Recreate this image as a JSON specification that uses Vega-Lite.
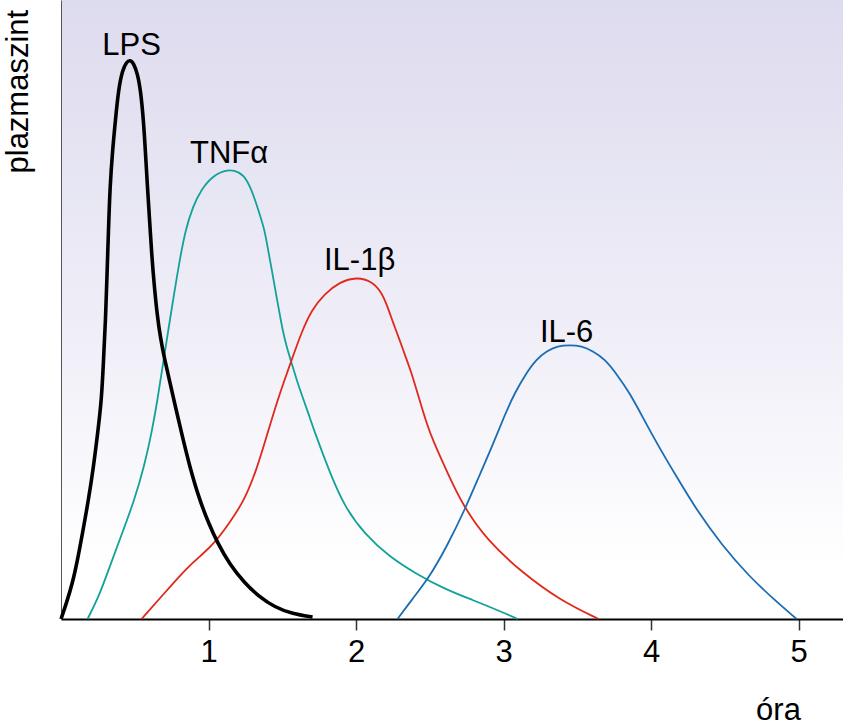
{
  "$schema": "https://vega.github.io/schema/vega-lite/v6.json",
  "width": 782,
  "height": 619,
  "autosize": "none",
  "padding": {"left": 61, "top": 0, "right": 0, "bottom": 108},
  "background": "white",
  "config": {
    "view": {"stroke": null, "fill": {"gradient": "linear", "x1": 0, "y1": 0, "x2": 0, "y2": 1, "stops": [{"offset": 0, "color": "#dddbee"}, {"offset": 0.5, "color": "#eeedf7"}, {"offset": 0.92, "color": "#ffffff"}, {"offset": 1, "color": "#ffffff"}]}},
    "font": "Liberation Sans"
  },
  "datasets": {
    "curves": [
      {"s": "LPS", "t": 0.0, "v": 0},
      {"s": "LPS", "t": 0.037, "v": 16},
      {"s": "LPS", "t": 0.078, "v": 36},
      {"s": "LPS", "t": 0.112, "v": 59},
      {"s": "LPS", "t": 0.146, "v": 86},
      {"s": "LPS", "t": 0.186, "v": 119},
      {"s": "LPS", "t": 0.22, "v": 152},
      {"s": "LPS", "t": 0.247, "v": 184},
      {"s": "LPS", "t": 0.275, "v": 219},
      {"s": "LPS", "t": 0.288, "v": 259},
      {"s": "LPS", "t": 0.302, "v": 299},
      {"s": "LPS", "t": 0.312, "v": 345},
      {"s": "LPS", "t": 0.322, "v": 390},
      {"s": "LPS", "t": 0.332, "v": 432},
      {"s": "LPS", "t": 0.349, "v": 468},
      {"s": "LPS", "t": 0.369, "v": 499},
      {"s": "LPS", "t": 0.39, "v": 530},
      {"s": "LPS", "t": 0.417, "v": 549},
      {"s": "LPS", "t": 0.444, "v": 557},
      {"s": "LPS", "t": 0.468, "v": 559},
      {"s": "LPS", "t": 0.492, "v": 556},
      {"s": "LPS", "t": 0.519, "v": 545},
      {"s": "LPS", "t": 0.539, "v": 529},
      {"s": "LPS", "t": 0.559, "v": 499},
      {"s": "LPS", "t": 0.573, "v": 465},
      {"s": "LPS", "t": 0.586, "v": 432},
      {"s": "LPS", "t": 0.6, "v": 400},
      {"s": "LPS", "t": 0.614, "v": 366},
      {"s": "LPS", "t": 0.631, "v": 335},
      {"s": "LPS", "t": 0.651, "v": 305},
      {"s": "LPS", "t": 0.675, "v": 280},
      {"s": "LPS", "t": 0.702, "v": 260},
      {"s": "LPS", "t": 0.736, "v": 238},
      {"s": "LPS", "t": 0.776, "v": 212},
      {"s": "LPS", "t": 0.817, "v": 186},
      {"s": "LPS", "t": 0.871, "v": 153},
      {"s": "LPS", "t": 0.939, "v": 119},
      {"s": "LPS", "t": 1.0, "v": 96},
      {"s": "LPS", "t": 1.061, "v": 76},
      {"s": "LPS", "t": 1.142, "v": 55},
      {"s": "LPS", "t": 1.244, "v": 36},
      {"s": "LPS", "t": 1.346, "v": 22},
      {"s": "LPS", "t": 1.447, "v": 12},
      {"s": "LPS", "t": 1.569, "v": 5},
      {"s": "LPS", "t": 1.705, "v": 2},
      {"s": "TNF", "t": 0.18, "v": 0},
      {"s": "TNF", "t": 0.261, "v": 24},
      {"s": "TNF", "t": 0.329, "v": 52},
      {"s": "TNF", "t": 0.41, "v": 84},
      {"s": "TNF", "t": 0.498, "v": 119},
      {"s": "TNF", "t": 0.566, "v": 154},
      {"s": "TNF", "t": 0.614, "v": 186},
      {"s": "TNF", "t": 0.654, "v": 219},
      {"s": "TNF", "t": 0.688, "v": 252},
      {"s": "TNF", "t": 0.722, "v": 284},
      {"s": "TNF", "t": 0.763, "v": 322},
      {"s": "TNF", "t": 0.803, "v": 358},
      {"s": "TNF", "t": 0.844, "v": 389},
      {"s": "TNF", "t": 0.892, "v": 412},
      {"s": "TNF", "t": 0.953, "v": 430},
      {"s": "TNF", "t": 1.027, "v": 443},
      {"s": "TNF", "t": 1.129, "v": 450},
      {"s": "TNF", "t": 1.21, "v": 447},
      {"s": "TNF", "t": 1.258, "v": 440},
      {"s": "TNF", "t": 1.305, "v": 424},
      {"s": "TNF", "t": 1.346, "v": 405},
      {"s": "TNF", "t": 1.38, "v": 389},
      {"s": "TNF", "t": 1.4, "v": 372},
      {"s": "TNF", "t": 1.42, "v": 356},
      {"s": "TNF", "t": 1.441, "v": 339},
      {"s": "TNF", "t": 1.461, "v": 322},
      {"s": "TNF", "t": 1.481, "v": 306},
      {"s": "TNF", "t": 1.502, "v": 289},
      {"s": "TNF", "t": 1.529, "v": 272},
      {"s": "TNF", "t": 1.563, "v": 256},
      {"s": "TNF", "t": 1.597, "v": 239},
      {"s": "TNF", "t": 1.637, "v": 222},
      {"s": "TNF", "t": 1.678, "v": 205},
      {"s": "TNF", "t": 1.719, "v": 187},
      {"s": "TNF", "t": 1.82, "v": 147},
      {"s": "TNF", "t": 1.922, "v": 112},
      {"s": "TNF", "t": 2.058, "v": 85},
      {"s": "TNF", "t": 2.227, "v": 62},
      {"s": "TNF", "t": 2.41, "v": 45},
      {"s": "TNF", "t": 2.6, "v": 30},
      {"s": "TNF", "t": 2.79, "v": 19},
      {"s": "TNF", "t": 2.973, "v": 8},
      {"s": "TNF", "t": 3.095, "v": 0},
      {"s": "IL1", "t": 0.546, "v": 0},
      {"s": "IL1", "t": 0.702, "v": 26},
      {"s": "IL1", "t": 0.858, "v": 52},
      {"s": "IL1", "t": 0.953, "v": 64},
      {"s": "IL1", "t": 1.041, "v": 76},
      {"s": "IL1", "t": 1.142, "v": 96},
      {"s": "IL1", "t": 1.244, "v": 119},
      {"s": "IL1", "t": 1.325, "v": 149},
      {"s": "IL1", "t": 1.4, "v": 186},
      {"s": "IL1", "t": 1.468, "v": 219},
      {"s": "IL1", "t": 1.515, "v": 239},
      {"s": "IL1", "t": 1.563, "v": 259},
      {"s": "IL1", "t": 1.631, "v": 287},
      {"s": "IL1", "t": 1.698, "v": 309},
      {"s": "IL1", "t": 1.786, "v": 325},
      {"s": "IL1", "t": 1.888, "v": 337},
      {"s": "IL1", "t": 2.003, "v": 342},
      {"s": "IL1", "t": 2.105, "v": 338},
      {"s": "IL1", "t": 2.173, "v": 327},
      {"s": "IL1", "t": 2.214, "v": 312},
      {"s": "IL1", "t": 2.254, "v": 295},
      {"s": "IL1", "t": 2.295, "v": 279},
      {"s": "IL1", "t": 2.336, "v": 262},
      {"s": "IL1", "t": 2.376, "v": 246},
      {"s": "IL1", "t": 2.41, "v": 229},
      {"s": "IL1", "t": 2.444, "v": 212},
      {"s": "IL1", "t": 2.478, "v": 196},
      {"s": "IL1", "t": 2.519, "v": 179},
      {"s": "IL1", "t": 2.62, "v": 146},
      {"s": "IL1", "t": 2.722, "v": 114},
      {"s": "IL1", "t": 2.885, "v": 79},
      {"s": "IL1", "t": 3.129, "v": 46},
      {"s": "IL1", "t": 3.38, "v": 19},
      {"s": "IL1", "t": 3.644, "v": 0},
      {"s": "IL6", "t": 2.281, "v": 0},
      {"s": "IL6", "t": 2.376, "v": 19},
      {"s": "IL6", "t": 2.498, "v": 42},
      {"s": "IL6", "t": 2.62, "v": 74},
      {"s": "IL6", "t": 2.736, "v": 109},
      {"s": "IL6", "t": 2.837, "v": 144},
      {"s": "IL6", "t": 2.932, "v": 176},
      {"s": "IL6", "t": 3.007, "v": 204},
      {"s": "IL6", "t": 3.075, "v": 226},
      {"s": "IL6", "t": 3.149, "v": 245},
      {"s": "IL6", "t": 3.224, "v": 260},
      {"s": "IL6", "t": 3.292, "v": 268},
      {"s": "IL6", "t": 3.366, "v": 273},
      {"s": "IL6", "t": 3.447, "v": 274},
      {"s": "IL6", "t": 3.529, "v": 273},
      {"s": "IL6", "t": 3.603, "v": 268},
      {"s": "IL6", "t": 3.685, "v": 260},
      {"s": "IL6", "t": 3.766, "v": 245},
      {"s": "IL6", "t": 3.854, "v": 226},
      {"s": "IL6", "t": 3.942, "v": 202},
      {"s": "IL6", "t": 4.037, "v": 176},
      {"s": "IL6", "t": 4.173, "v": 142},
      {"s": "IL6", "t": 4.308, "v": 109},
      {"s": "IL6", "t": 4.478, "v": 74},
      {"s": "IL6", "t": 4.668, "v": 42},
      {"s": "IL6", "t": 4.837, "v": 19},
      {"s": "IL6", "t": 4.986, "v": 0}
    ],
    "labels": [
      {"label": "LPS", "t": 0.478, "v": 564},
      {"label": "TNFα", "t": 1.139, "v": 456},
      {"label": "IL-1β", "t": 2.024, "v": 349},
      {"label": "IL-6", "t": 3.427, "v": 277}
    ]
  },
  "encoding": {
    "x": {
      "field": "t", "type": "quantitative",
      "scale": {"domain": [0, 5.3], "nice": false, "zero": false},
      "axis": {
        "title": "óra", "values": [1, 2, 3, 4, 5], "grid": false,
        "domainColor": "#000000", "domainWidth": 2,
        "tickColor": "#333333", "tickWidth": 1.5, "tickSize": 11,
        "labelFont": "Liberation Sans", "labelFontSize": 31, "labelColor": "#000000", "labelPadding": 7,
        "titleFont": "Liberation Sans", "titleFontSize": 31, "titleFontWeight": "normal", "titleColor": "#000000",
        "titleX": 717, "titleY": 100, "titleAlign": "center", "titleBaseline": "alphabetic"
      }
    },
    "y": {
      "field": "v", "type": "quantitative",
      "scale": {"domain": [0, 619], "nice": false},
      "axis": {
        "title": "plazmaszint", "ticks": false, "labels": false, "grid": false,
        "domainColor": "#555555", "domainWidth": 1,
        "titleFont": "Liberation Sans", "titleFontSize": 31, "titleFontWeight": "normal", "titleColor": "#000000",
        "titleAngle": 270, "titleX": -34, "titleY": 173, "titleAlign": "left", "titleBaseline": "alphabetic"
      }
    }
  },
  "layer": [
    {
      "data": {"name": "curves"},
      "transform": [{"filter": "datum.s !== 'LPS'"}],
      "mark": {"type": "line", "interpolate": "basis", "strokeWidth": 1.8},
      "encoding": {
        "color": {"field": "s", "type": "nominal", "legend": null,
          "scale": {"domain": ["TNF", "IL1", "IL6"], "range": ["#12a297", "#e0291c", "#1a6db3"]}},
        "order": {"field": "t", "type": "quantitative"}
      }
    },
    {
      "data": {"name": "curves"},
      "transform": [{"filter": "datum.s === 'LPS'"}],
      "mark": {"type": "line", "interpolate": "basis", "strokeWidth": 3.6, "color": "#000000"},
      "encoding": {
        "order": {"field": "t", "type": "quantitative"}
      }
    },
    {
      "data": {"name": "labels"},
      "mark": {"type": "text", "font": "Liberation Sans", "fontSize": 31, "align": "center", "baseline": "alphabetic", "color": "#000000"},
      "encoding": {"text": {"field": "label"}}
    }
  ]
}
